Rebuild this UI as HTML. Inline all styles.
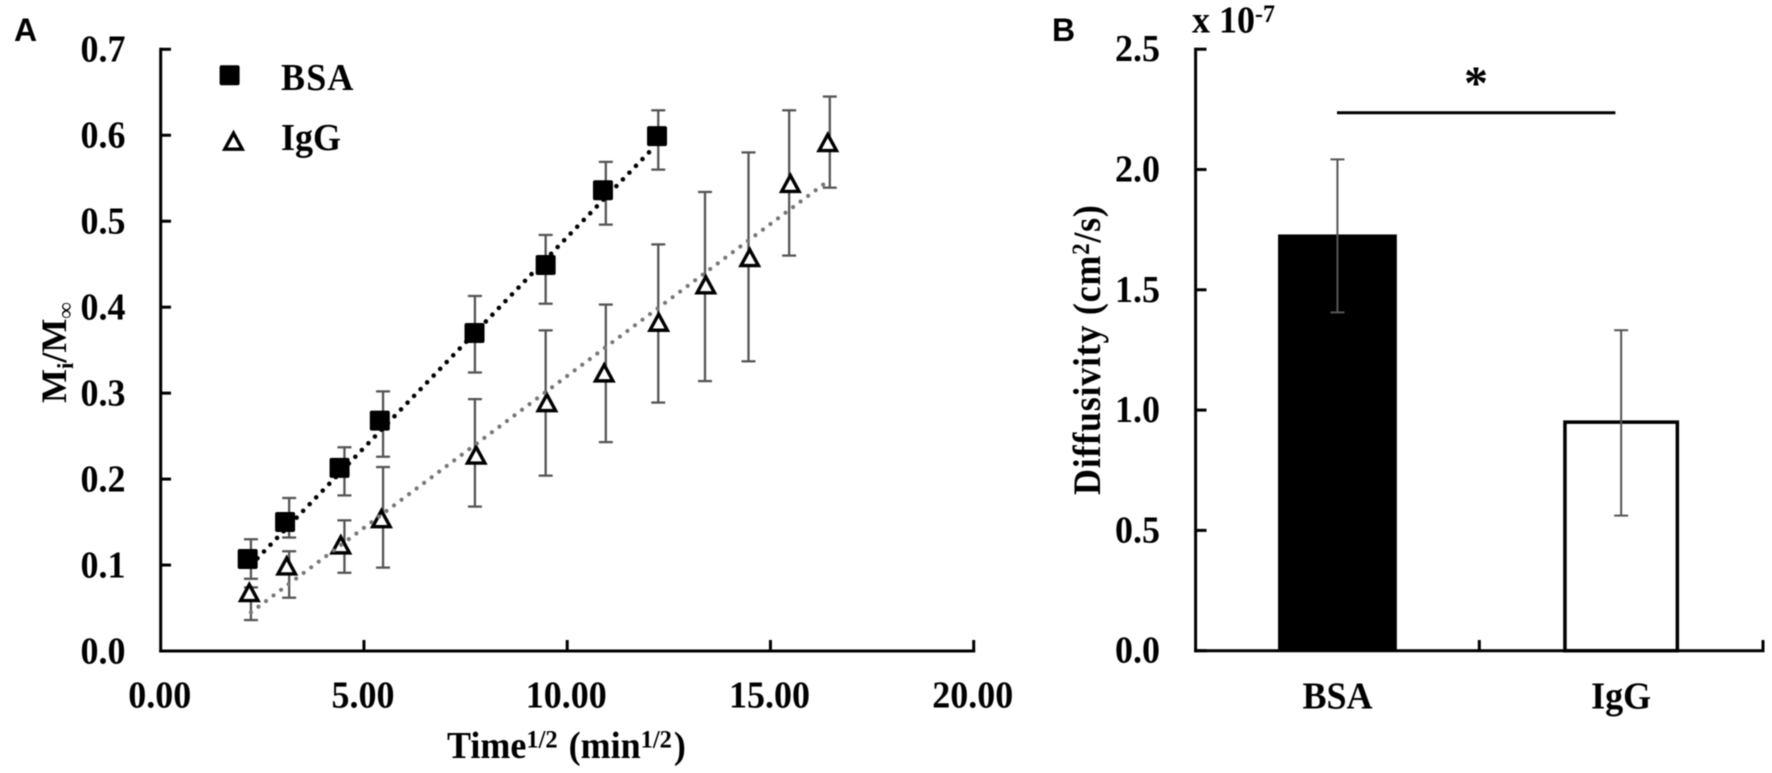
<!DOCTYPE html>
<html lang="en">
<head>
<meta charset="utf-8">
<title>Diffusion of BSA and IgG</title>
<style>
html,body{margin:0;padding:0;background:#fff;width:1772px;height:773px;overflow:hidden}
svg{display:block;filter:blur(0.45px)}
text{font-family:"Liberation Serif",serif;font-weight:bold;fill:#000;font-size:36px}
.panel{font-family:"Liberation Sans",sans-serif;font-size:32px}
</style>
</head>
<body>
<svg id="fig" xmlns="http://www.w3.org/2000/svg" width="1772" height="773" viewBox="0 0 1772 773">
  <rect x="0" y="0" width="1772" height="773" fill="#fff"></rect>
  <text class="panel" x="14" y="41">A</text>
  <text class="panel" x="1052" y="41">B</text>
  <text transform="translate(66 403) rotate(-90)" x="0" y="0">M<tspan style="font-size:23px" dy="7">i</tspan><tspan dy="-7">/M</tspan><tspan style="font-size:23px" dy="7">∞</tspan></text>
  <text transform="translate(447 758) scale(1 1.05)" x="0" y="0">Time<tspan style="font-size:24.5px" dy="-10">1/2</tspan><tspan dy="10" dx="2"> (min</tspan><tspan style="font-size:24.5px" dy="-10">1/2</tspan><tspan dy="10" dx="2">)</tspan></text>
  <text transform="translate(281 90) scale(1 1.05)" x="0" y="0" letter-spacing="1.2">BSA</text>
  <text transform="translate(281 150) scale(1 1.05)" x="0" y="0">IgG</text>
  <text transform="translate(1100 495) rotate(-90) scale(1 1.08)" x="0" y="0" letter-spacing="0.75">Diffusivity (cm<tspan style="font-size:23px" dy="-10">2</tspan><tspan dy="10">/s)</tspan></text>
  <text transform="translate(1192 32.7) scale(1 1.05)" x="0" y="0">x 10<tspan style="font-size:24px" dy="-10">-7</tspan></text>
  <text x="1476" y="99" text-anchor="middle" style="font-size:48px">*</text>
</svg>
<script>
// Panel A data
const xTicksA = [0, 5, 10, 15, 20];
const xTickLabelsA = ["0.00", "5.00", "10.00", "15.00", "20.00"];
const yTicksA = [0, 0.1, 0.2, 0.3, 0.4, 0.5, 0.6, 0.7];
const yTickLabelsA = ["0.0", "0.1", "0.2", "0.3", "0.4", "0.5", "0.6", "0.7"];

const bsaX = [2.14, 3.06, 4.40, 5.39, 7.72, 9.47, 10.88, 12.21];
const bsaY = [0.107, 0.150, 0.213, 0.268, 0.370, 0.449, 0.536, 0.599];
const bsaErrX = [2.22, 3.16, 4.52, 5.47, 7.73, 9.47, 10.95, 12.24];
const bsaHigh = [0.130, 0.178, 0.237, 0.302, 0.413, 0.484, 0.569, 0.629];
const bsaLow = [0.084, 0.132, 0.181, 0.226, 0.324, 0.404, 0.496, 0.560];
const bsaTrendX = [2.22, 12.03];
const bsaTrendY = [0.100, 0.581];

const iggX = [2.18, 3.10, 4.43, 5.43, 7.76, 9.50, 10.91, 12.25, 13.41, 14.49, 15.49, 16.41];
const iggY = [0.069, 0.100, 0.1245, 0.155, 0.229, 0.290, 0.3246, 0.3835, 0.427, 0.4587, 0.545, 0.5925];
const iggErrX = [2.22, 3.16, 4.52, 5.47, 7.73, 9.47, 10.95, 12.24, 13.39, 14.46, 15.46, 16.46];
const iggHigh = [0.074, 0.116, 0.152, 0.214, 0.293, 0.373, 0.403, 0.473, 0.534, 0.580, 0.629, 0.645];
const iggLow = [0.036, 0.062, 0.091, 0.097, 0.168, 0.204, 0.243, 0.289, 0.314, 0.337, 0.460, 0.539];
const iggTrendX = [2.22, 16.31];
const iggTrendY = [0.045, 0.543];

// Panel B data
const yTicksB = [0, 0.5, 1.0, 1.5, 2.0, 2.5];
const yTickLabelsB = ["0.0", "0.5", "1.0", "1.5", "2.0", "2.5"];
const categoriesB = ["BSA", "IgG"];
const diffusivity = [1.73, 0.95];
const diffusivityHigh = [2.042, 1.332];
const diffusivityLow = [1.406, 0.5615];

const svg = document.getElementById('fig');
const NS = 'http://www.w3.org/2000/svg';

// Axis functions
function xA(v) { return 160.7 + v * 40.65; }
function yA(v) { return 651 - v * 859.6; }
function yB(v) { return 650.7 - v * 240.6; }
function xB(i) { return 1195.6 + (i + 0.5) * (1763 - 1195.6) / categoriesB.length; }

function line(x1, y1, x2, y2, stroke, width, name) {
  const el = document.createElementNS(NS, 'line');
  el.setAttribute('x1', x1);
  el.setAttribute('y1', y1);
  el.setAttribute('x2', x2);
  el.setAttribute('y2', y2);
  el.setAttribute('stroke', stroke);
  el.setAttribute('stroke-width', width);
  
  
  svg.appendChild(el);
  return el;
}
function label(x, y, str, anchor, name) {
  const el = document.createElementNS(NS, 'text');
  el.setAttribute('transform', 'translate(' + x + ' ' + y + ') scale(1 1.05)');
  el.setAttribute('x', 0);
  el.setAttribute('y', 0);
  el.setAttribute('text-anchor', anchor);
  el.textContent = str;
  
  
  svg.appendChild(el);
  return el;
}
function square(cx, cy, name) {
  const el = document.createElementNS(NS, 'rect');
  el.setAttribute('x', cx - 10);
  el.setAttribute('y', cy - 10);
  el.setAttribute('width', 20);
  el.setAttribute('height', 20);
  el.setAttribute('rx', 2);
  el.setAttribute('fill', '#000');
  
  
  svg.appendChild(el);
}
function triangle(cx, cy, name) {
  const el = document.createElementNS(NS, 'polygon');
  el.setAttribute('points', (cx) + ',' + (cy - 7.1) + ' ' + (cx + 8.7) + ',' + (cy + 8.9) + ' ' + (cx - 8.7) + ',' + (cy + 8.9));
  el.setAttribute('fill', '#fff');
  el.setAttribute('stroke', '#000');
  el.setAttribute('stroke-width', 3.4);
  
  
  svg.appendChild(el);
}
function errorBar(x, top, bottom, capHalf, width, name) {
  line(x, top, x, bottom, '#555', width, name + '-stem');
  line(x - capHalf, top, x + capHalf, top, '#555', width, name + '-cap-high');
  line(x - capHalf, bottom, x + capHalf, bottom, '#555', width, name + '-cap-low');
}
function trend(xs, ys, color, width, name) {
  const el = line(xA(xs[0]), yA(ys[0]), xA(xs[1]), yA(ys[1]), color, width, name);
  el.setAttribute('stroke-dasharray', '0 9.4');
  el.setAttribute('stroke-linecap', 'round');
}

// Panel A axes
line(160.7, 47.8, 160.7, 652.5, '#000', 3, 'panel-a-y-axis');
line(159.2, yA(0), 975.2, yA(0), '#000', 3, 'panel-a-x-axis');
yTicksA.forEach(function (t, i) {
  line(160.7, yA(t), 171, yA(t), '#000', 3, 'panel-a-y-tick-' + yTickLabelsA[i]);
  label(125.5, yA(t) + 12.3, yTickLabelsA[i], 'end', 'panel-a-y-tick-label-' + yTickLabelsA[i]);
});
xTicksA.forEach(function (t, i) {
  if (t > 0) line(xA(t), yA(0), xA(t), yA(0) - 11, '#000', 3, 'panel-a-x-tick-' + xTickLabelsA[i]);
  label(xA(t) - 1, 707.7, xTickLabelsA[i], 'middle', 'panel-a-x-tick-label-' + xTickLabelsA[i]);
});

// Panel A error bars
bsaErrX.forEach(function (x, i) {
  errorBar(xA(x), yA(bsaHigh[i]), yA(bsaLow[i]), 7, 2.3, 'bsa-error-bar-' + (i + 1));
});
iggErrX.forEach(function (x, i) {
  errorBar(xA(x), yA(iggHigh[i]), yA(iggLow[i]), 7, 2.3, 'igg-error-bar-' + (i + 1));
});

// Panel A markers
bsaX.forEach(function (x, i) {
  square(xA(x), yA(bsaY[i]), 'bsa-point-' + (i + 1));
});
iggX.forEach(function (x, i) {
  triangle(xA(x), yA(iggY[i]), 'igg-point-' + (i + 1));
});

// Panel A trend lines
trend(bsaTrendX, bsaTrendY, '#000', 4.6, 'bsa-trend-line');
trend(iggTrendX, iggTrendY, '#777', 4.2, 'igg-trend-line');

// Legend markers
square(229.6, 75.3, 'legend-marker-bsa');
triangle(233.5, 140.3, 'legend-marker-igg');

// Panel B axes
line(1195.6, 47.8, 1195.6, 652.2, '#000', 3, 'panel-b-y-axis');
yTicksB.forEach(function (t, i) {
  line(1195.6, yB(t), 1206.5, yB(t), '#000', 3, 'panel-b-y-tick-' + yTickLabelsB[i]);
  label(1160, yB(t) + 12, yTickLabelsB[i], 'end', 'panel-b-y-tick-label-' + yTickLabelsB[i]);
});

// Panel B bars
categoriesB.forEach(function (c, i) {
  const key = c.toLowerCase();
  const bar = document.createElementNS(NS, 'rect');
  const filled = i === 0;
  const w = filled ? 118.8 : 112.4;
  bar.setAttribute('x', xB(i) - w / 2);
  bar.setAttribute('y', yB(diffusivity[i]));
  bar.setAttribute('width', w);
  bar.setAttribute('height', yB(0) - yB(diffusivity[i]));
  bar.setAttribute('fill', filled ? '#000' : '#fff');
  bar.setAttribute('stroke', filled ? 'none' : '#000');
  bar.setAttribute('stroke-width', filled ? 0 : 3.5);
  
  
  svg.appendChild(bar);
  label(xB(i), 708.3, c, 'middle', 'panel-b-x-tick-label-' + key);
});

// Panel B x axis drawn above the bars
line(1194.1, yB(0), 1764.5, yB(0), '#000', 3, 'panel-b-x-axis');
line((1195.6 + 1763) / 2, yB(0), (1195.6 + 1763) / 2, yB(0) - 10.7, '#000', 3, 'panel-b-x-tick-middle');
line(1763, yB(0), 1763, yB(0) - 10.7, '#000', 3, 'panel-b-x-tick-end');

// Panel B error bars
categoriesB.forEach(function (c, i) {
  errorBar(xB(i), yB(diffusivityHigh[i]), yB(diffusivityLow[i]), 7, 2, 'bar-error-' + c.toLowerCase());
});

// Significance bracket
line(1337, 112.7, 1615.4, 112.7, '#000', 3, 'significance-bracket');
</script>
</body>
</html>
